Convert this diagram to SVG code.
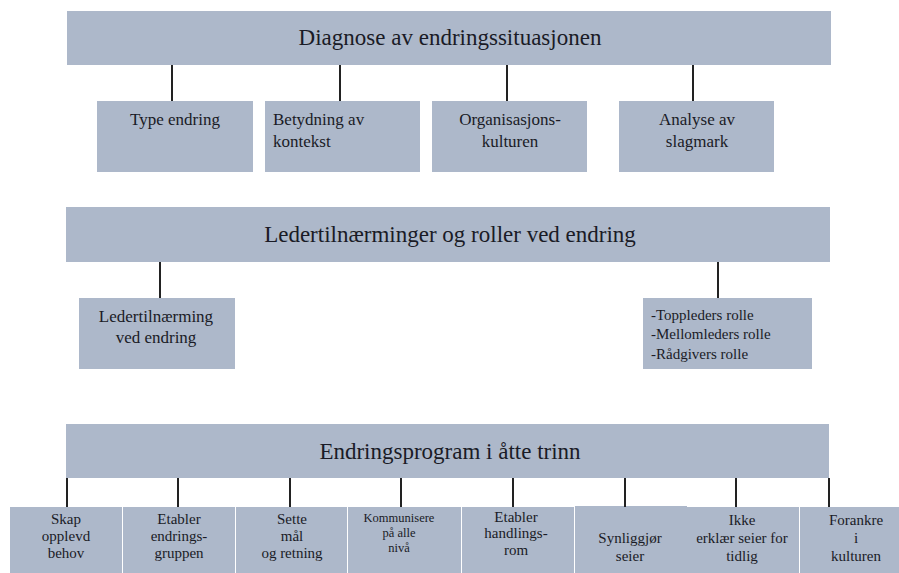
<svg xmlns="http://www.w3.org/2000/svg" width="899" height="573" viewBox="0 0 899 573">
<style>
.box{fill:#adb8ca;}
.t{font-family:"Liberation Serif","Times New Roman",serif;fill:#1a1b26;}
.h{font-size:23px;text-anchor:middle;}
.m{font-size:17px;}
.s{font-size:15px;text-anchor:middle;}
.k{font-size:12.5px;text-anchor:middle;}
.c{text-anchor:middle;}
.conn line{stroke:#222;stroke-width:2;}
</style>
<rect width="899" height="573" fill="#ffffff"/>
<g id="band1"><rect class="box" x="67" y="11" width="764" height="54"/><text class="t h" x="450" y="45">Diagnose av endringssituasjonen</text></g>
<g id="type-endring"><rect class="box" x="97" y="101" width="156" height="71"/><text class="t m c" x="175" y="125">Type endring</text></g>
<g id="betydning"><rect class="box" x="265" y="101" width="155" height="71"/><text class="t m" x="273" y="125">Betydning av</text><text class="t m" x="273" y="147">kontekst</text></g>
<g id="org-kultur"><rect class="box" x="432" y="101" width="155" height="71"/><text class="t m c" x="510" y="125">Organisasjons-</text><text class="t m c" x="510" y="147">kulturen</text></g>
<g id="analyse"><rect class="box" x="619" y="101" width="155" height="71"/><text class="t m c" x="697" y="125">Analyse av</text><text class="t m c" x="697" y="147">slagmark</text></g>
<g id="band2"><rect class="box" x="66" y="207" width="764" height="55"/><text class="t h" x="450" y="242">Ledertilnærminger og roller ved endring</text></g>
<g id="ledertilnaerming"><rect class="box" x="79" y="298" width="156" height="71"/><text class="t m c" x="156" y="322">Ledertilnærming</text><text class="t m c" x="156" y="343">ved endring</text></g>
<g id="roller"><rect class="box" x="643" y="298" width="169" height="71"/><text class="t" font-size="15" x="651" y="320">-Toppleders rolle</text><text class="t" font-size="15" x="651" y="339">-Mellomleders rolle</text><text class="t" font-size="15" x="651" y="359">-Rådgivers rolle</text></g>
<g id="band3"><rect class="box" x="66" y="424" width="763" height="54"/><text class="t h" x="450" y="459">Endringsprogram i åtte trinn</text></g>
<g id="steg1"><rect class="box" x="10" y="507" width="112" height="66"/><text class="t s" x="66" y="524">Skap</text><text class="t s" x="66" y="541">opplevd</text><text class="t s" x="66" y="558">behov</text></g>
<g id="steg2"><rect class="box" x="123" y="507" width="112" height="66"/><text class="t s" x="179" y="524">Etabler</text><text class="t s" x="179" y="541">endrings-</text><text class="t s" x="179" y="558">gruppen</text></g>
<g id="steg3"><rect class="box" x="236" y="507" width="111" height="66"/><text class="t s" x="292" y="524">Sette</text><text class="t s" x="292" y="541">mål</text><text class="t s" x="292" y="558">og retning</text></g>
<g id="steg4"><rect class="box" x="348" y="507" width="113" height="66"/><text class="t k" x="399" y="522">Kommunisere</text><text class="t k" x="399" y="537">på alle</text><text class="t k" x="399" y="552">nivå</text></g>
<g id="steg5"><rect class="box" x="462" y="507" width="112" height="66"/><text class="t s" x="516" y="522">Etabler</text><text class="t s" x="516" y="538">handlings-</text><text class="t s" x="516" y="555">rom</text></g>
<g id="steg6"><rect class="box" x="575" y="506" width="112" height="67"/><text class="t s" x="630" y="543">Synliggjør</text><text class="t s" x="630" y="561">seier</text></g>
<g id="steg7"><rect class="box" x="687" y="507" width="112" height="66"/><text class="t s" x="742" y="525">Ikke</text><text class="t s" x="742" y="543">erklær seier for</text><text class="t s" x="742" y="561">tidlig</text></g>
<g id="steg8"><rect class="box" x="800" y="507" width="99" height="66"/><text class="t s" x="856" y="525">Forankre</text><text class="t s" x="856" y="543">i</text><text class="t s" x="856" y="561">kulturen</text></g>
<g id="connectors" class="conn">
<line x1="172" y1="65" x2="172" y2="101"/>
<line x1="340" y1="65" x2="340" y2="101"/>
<line x1="507" y1="65" x2="507" y2="101"/>
<line x1="693" y1="65" x2="693" y2="101"/>
<line x1="160" y1="262" x2="160" y2="298"/>
<line x1="718" y1="262" x2="718" y2="298"/>
<line x1="67" y1="478" x2="67" y2="507"/>
<line x1="178" y1="478" x2="178" y2="507"/>
<line x1="290" y1="478" x2="290" y2="507"/>
<line x1="401" y1="478" x2="401" y2="507"/>
<line x1="513" y1="478" x2="513" y2="507"/>
<line x1="625" y1="478" x2="625" y2="507"/>
<line x1="736" y1="478" x2="736" y2="507"/>
<line x1="829" y1="478" x2="829" y2="507"/>
</g>
</svg>
